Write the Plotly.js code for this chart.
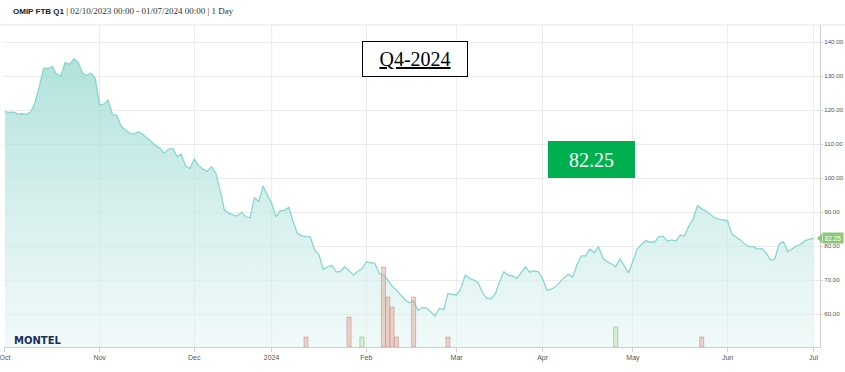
<!DOCTYPE html>
<html>
<head>
<meta charset="utf-8">
<script src="https://cdn.plot.ly/plotly-3.0.1.min.js"></script>
<style>html,body{margin:0;padding:0;background:#fff;}#chart{width:845px;height:372px;}</style>
</head>
<body>
<div id="chart"></div>
<script>
// Trading calendar (weekdays, exchange holidays removed)
const startDate = '2023-10-02';
const endDate = '2024-07-01';
const holidays = ['2023-12-08','2023-12-25','2023-12-26','2024-01-01','2024-03-29','2024-04-01','2024-05-01'];

// Monthly tick categories and labels
const monthTicks = ['2023-10-02','2023-11-01','2023-12-01','2024-01-02','2024-02-01','2024-03-01','2024-04-02','2024-05-02','2024-06-03','2024-07-01'];
const monthLabels = ['Oct','Nov','Dec','2024','Feb','Mar','Apr','May','Jun','Jul'];

// Daily settlement price (EUR/MWh), one per trading day
const prices = [
119.5,119.3,119.4,118.8,118.9,118.7,119.5,122.2,127.0,132.3,
132.2,132.8,130.5,130.1,134.0,133.4,135.0,134.1,130.8,130.2,
130.8,129.3,121.5,121.7,122.9,118.6,118.5,115.2,114.1,113.2,
112.9,113.6,112.9,111.7,110.6,109.6,108.8,107.3,108.4,108.7,
106.3,107.0,103.5,102.8,105.6,103.7,102.6,101.9,103.3,101.5,
96.5,90.6,89.6,89.2,88.8,89.9,88.6,88.3,94.3,93.0,
97.6,95.0,92.6,88.6,90.4,90.5,91.4,87.1,83.7,83.0,
82.8,82.6,78.8,77.4,73.1,73.9,74.3,72.4,72.5,73.9,
72.7,71.5,72.5,73.3,75.3,75.1,74.9,71.9,71.5,70.0,
68.2,67.1,65.5,64.2,63.3,63.9,61.0,61.9,61.8,60.7,
59.4,61.7,61.2,66.0,65.8,65.6,67.5,71.4,70.5,70.0,
69.2,66.4,64.6,64.5,65.9,69.5,72.4,71.4,71.2,70.5,
72.1,73.9,72.3,72.7,72.4,70.4,67.0,67.3,68.0,69.5,
70.7,71.7,70.8,74.4,77.1,77.1,79.1,78.0,79.8,76.4,
75.4,74.7,73.9,76.2,74.1,72.1,75.6,79.1,80.5,81.6,
81.1,81.1,82.7,82.9,81.4,81.8,81.5,83.2,83.0,85.9,
87.9,91.9,91.0,90.3,89.3,88.3,87.9,87.6,87.4,83.5,
82.6,81.8,80.5,79.8,79.8,79.1,79.3,77.9,75.9,76.1,
80.6,81.3,78.3,79.1,80.0,80.5,81.5,82.0,82.25
];

// Volume bars
const volDates = ['2024-01-12','2024-01-26','2024-01-31','2024-02-07','2024-02-08','2024-02-09','2024-02-12','2024-02-16','2024-02-28','2024-04-25','2024-05-24'];
const volValues = [1,3,1,8,5,4,1,5,1,2,1];
const volSide = ['sell','sell','buy','sell','sell','sell','sell','sell','sell','buy','sell'];

const lastValue = 82.25;
const annoLabel = 'Q4-2024';

function tradingDays(s, e, hol) {
  const out = [];
  const d = new Date(s + 'T00:00:00Z');
  const end = new Date(e + 'T00:00:00Z');
  while (d <= end) {
    const wd = d.getUTCDay();
    const iso = d.toISOString().slice(0, 10);
    if (wd !== 0 && wd !== 6 && hol.indexOf(iso) < 0) out.push(iso);
    d.setUTCDate(d.getUTCDate() + 1);
  }
  return out;
}
const days = tradingDays(startDate, endDate, holidays);

// plot-area geometry helpers (paper coords)
const L = 4, R = 820, T = 25, B = 347;
const px = x => (x - L) / (R - L);
const py = y => (B - y) / (B - T);

const priceTrace = {
  type: 'scatter', mode: 'lines', x: days, y: prices,
  line: {color: '#86d8ce', width: 1.3},
  fill: 'tozeroy',
  fillgradient: {type: 'vertical', start: 50, stop: 136,
    colorscale: [[0, 'rgba(228,245,244,0.55)'], [1, 'rgba(150,216,208,0.75)']]},
  hoverinfo: 'skip', showlegend: false
};
const barTrace = {
  type: 'bar', x: volDates, y: volValues, yaxis: 'y2', width: 0.95,
  marker: {
    color: volSide.map(s => s === 'buy' ? 'rgba(200,230,190,0.6)' : 'rgba(225,160,145,0.45)'),
    line: {color: volSide.map(s => s === 'buy' ? 'rgba(150,200,135,0.7)' : 'rgba(205,140,125,0.55)'), width: 1}
  },
  hoverinfo: 'skip', showlegend: false
};

const axisFont = {family: 'Liberation Sans, Arial, sans-serif', size: 7, color: '#555'};

const layout = {
  width: 845, height: 372,
  margin: {l: L, r: 845 - R, t: T, b: 372 - B, pad: 0},
  paper_bgcolor: '#fff', plot_bgcolor: '#fff',
  showlegend: false,
  bargap: 0,
  xaxis: {
    type: 'category', range: [-0.23, 189.5],
    tickmode: 'array', tickvals: monthTicks, ticktext: monthLabels,
    showgrid: true, gridcolor: '#ececec', gridwidth: 1,
    showline: true, linecolor: '#cfcfcf', linewidth: 1,
    ticks: 'outside', ticklen: 4, tickcolor: '#cfcfcf',
    tickfont: axisFont, tickangle: 0, zeroline: false, fixedrange: true
  },
  yaxis: {
    side: 'right', range: [50.3, 145],
    tickmode: 'array', tickvals: [60,70,80,90,100,110,120,130,140], tickformat: '.2f',
    showgrid: true, gridcolor: '#ececec', gridwidth: 1,
    showline: true, linecolor: '#cfcfcf', linewidth: 1,
    ticks: 'outside', ticklen: 2, tickcolor: '#cfcfcf',
    tickfont: {family: 'Liberation Sans, Arial, sans-serif', size: 6.2, color: '#555'},
    ticklabelstandoff: 0,
    zeroline: false, fixedrange: true
  },
  yaxis2: {overlaying: 'y', range: [0, 32.2], visible: false, fixedrange: true},
  shapes: [
    {type: 'line', xref: 'paper', yref: 'paper', x0: px(0), x1: px(845), y0: 1, y1: 1,
     line: {color: '#e4e4e4', width: 1}},
    {type: 'line', xref: 'x', yref: 'paper', x0: '2024-01-02', x1: '2024-01-02', y0: 0, y1: 1,
     layer: 'below', line: {color: '#dcdcdc', width: 1}},
    {type: 'path', xref: 'paper', yref: 'y',
     path: 'M ' + px(817) + ',' + lastValue + ' L ' + px(822) + ',' + (lastValue + 1.45) +
           ' L ' + px(822) + ',' + (lastValue - 1.45) + ' Z',
     fillcolor: '#8cc879', line: {width: 0}}
  ],
  annotations: [
    {xref: 'paper', yref: 'paper', x: px(11), y: py(11), xanchor: 'left', yanchor: 'middle',
     showarrow: false, align: 'left',
     font: {family: 'Liberation Sans, Arial, sans-serif', size: 8, color: '#222'},
     text: '<b>OMIP FTB Q1</b> <span style="font-family:Liberation Serif;font-size:9px;color:#333">| 02/10/2023 00:00 - 01/07/2024 00:00 | 1 Day</span>'},
    {xref: 'paper', yref: 'paper', x: px(414.5), y: py(58.5), xanchor: 'center', yanchor: 'middle',
     showarrow: false, width: 104, height: 34, align: 'center', valign: 'middle',
     bgcolor: '#fff', bordercolor: '#000', borderwidth: 1, borderpad: 0,
     font: {family: 'Liberation Serif, Times New Roman, serif', size: 20, color: '#000'},
     text: '<u>' + annoLabel + '</u>'},
    {xref: 'paper', yref: 'paper', x: px(591.5), y: py(159.5), xanchor: 'center', yanchor: 'middle',
     showarrow: false, width: 87, height: 37, align: 'center', valign: 'middle',
     bgcolor: '#00b050', borderwidth: 0, borderpad: 0,
     font: {family: 'Liberation Serif, Times New Roman, serif', size: 20, color: '#fff'},
     text: lastValue.toFixed(2)},
    {xref: 'paper', yref: 'y', x: px(822), y: lastValue, xanchor: 'left', yanchor: 'middle',
     showarrow: false, bgcolor: '#8cc879', borderpad: 1, width: 18, height: 8,
     font: {family: 'Liberation Sans, Arial, sans-serif', size: 6.5, color: '#fff'},
     text: lastValue.toFixed(2)},
    {xref: 'paper', yref: 'paper', x: px(12), y: py(340), xanchor: 'left', yanchor: 'middle',
     showarrow: false,
     font: {family: 'DejaVu Sans, sans-serif', size: 10, color: '#1b2f5e', weight: 'bold'},
     text: '<b>MONTEL</b>'}
  ]
};

Plotly.newPlot('chart', [priceTrace, barTrace], layout, {staticPlot: true, displayModeBar: false});
</script>
</body>
</html>
